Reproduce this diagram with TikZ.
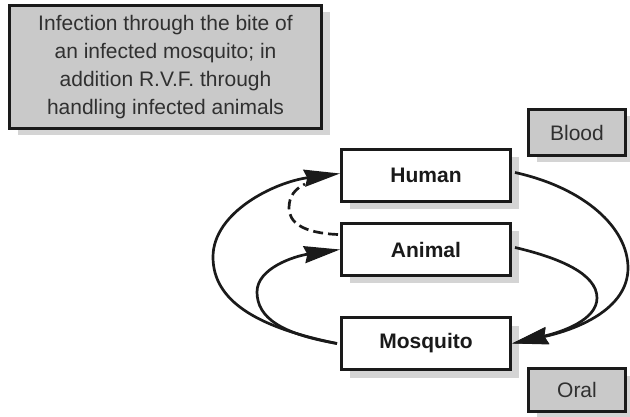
\documentclass[tikz,border=0pt]{standalone}
\usepackage{fontspec}
\setmainfont{Liberation Sans}
\usetikzlibrary{shadows,arrows.meta}
\definecolor{boxgray}{HTML}{C9C9C9}
\definecolor{shadgray}{HTML}{D4D4D4}
\definecolor{txtgray}{HTML}{303030}
\definecolor{linecol}{HTML}{1A1A1A}
\tikzset{
  graybox/.style={draw=linecol,line width=3pt,fill=boxgray,text=txtgray,
    inner sep=0pt,align=center,font=\fontsize{21}{28}\selectfont,
    drop shadow={shadow xshift=8pt,shadow yshift=-7pt,fill=shadgray,opacity=1}},
  hostbox/.style={draw=linecol,line width=3pt,fill=white,text=linecol,
    inner sep=0pt,minimum width=169pt,minimum height=52pt,
    font=\fontsize{21}{25}\selectfont\bfseries,
    drop shadow={shadow xshift=8pt,shadow yshift=-8pt,fill=shadgray,opacity=1}},
  conn/.style={draw=linecol,line width=2.7pt},
  tip/.style={-{Stealth[length=36pt,width=17pt,inset=3pt]}}
}
\begin{document}
\begin{tikzpicture}[x=1pt,y=-1pt]
\useasboundingbox (0,0) rectangle (630,417);
\node[graybox,minimum width=312pt,minimum height=123pt] (info) at (165.5,67)
  {Infection through the bite of\\an infected mosquito; in\\addition R.V.F. through\\handling infected animals};
\node[graybox,minimum width=97pt,minimum height=46pt] (blood) at (577,132.5) {Blood};
\node[graybox,minimum width=97pt,minimum height=43pt] (oral) at (577,390) {Oral};
\node[hostbox] (hum) at (426,175.5) {Human};
\node[hostbox] (ani) at (426,249.5) {Animal};
\node[hostbox] (mos) at (426,343.5) {Mosquito};
% left side: mosquito -> human, mosquito -> animal
\draw[conn,tip] ([xshift=-3pt]mos.west) .. controls (255,327) and (213,300) .. (213,257)
   .. controls (213,212) and (275,182) .. ([yshift=2pt]hum.west);
\draw[conn,tip] ([xshift=-3pt]mos.west) .. controls (282,334) and (257,318) .. (257,292)
   .. controls (257,268) and (295,256) .. (ani.west);
% dashed: animal -> human
\draw[conn,dashed,dash pattern=on 10pt off 5pt] ([xshift=-2pt,yshift=15pt]ani.west)
   .. controls (302,233) and (289,222) .. (289,208)
   .. controls (289,196) and (295,189) .. (305,184);
% right side: human -> mosquito, animal -> mosquito
\draw[conn,tip] ([xshift=3pt,yshift=3pt]hum.east) .. controls (585,188) and (628,228) .. (628,268)
   .. controls (628,310) and (575,330) .. (mos.east);
\draw[conn,tip] ([xshift=3pt,yshift=2pt]ani.east) .. controls (560,258) and (597,274) .. (597,298)
   .. controls (597,320) and (562,332) .. (mos.east);
\end{tikzpicture}
\end{document}
